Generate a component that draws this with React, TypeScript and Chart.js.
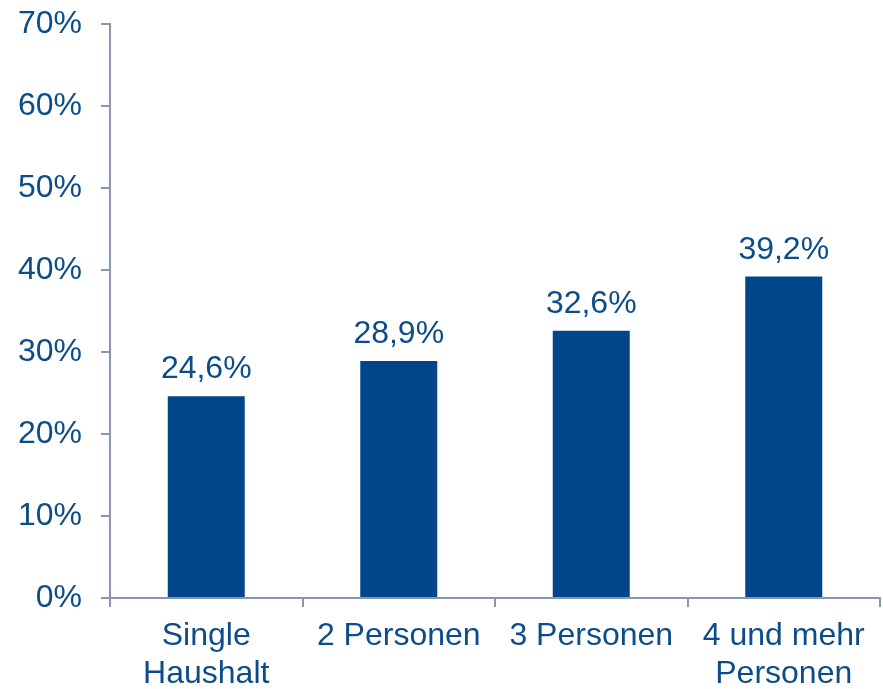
import React, { useEffect, useRef } from "react";
import { Chart, registerables } from "chart.js";

Chart.register(...registerables);

const categories: (string | string[])[] = [["Single", "Haushalt"], "2 Personen", "3 Personen", ["4 und mehr", "Personen"]];
const values: number[] = [24.6, 28.9, 32.6, 39.2];
const valueLabels: string[] = ["24,6%", "28,9%", "32,6%", "39,2%"];
const yTicks: number[] = [0, 10, 20, 30, 40, 50, 60, 70];

const TEXT = "#0C4C89";
const BAR = "#02468A";
const AXIS = "#8A96AE";
const FONT = "'Liberation Sans', Arial, sans-serif";

const labelPlugin = {
  id: "valueLabels",
  afterDatasetsDraw(chart: any) {
    const ctx = chart.ctx;
    const meta = chart.getDatasetMeta(0);
    ctx.save();
    ctx.fillStyle = TEXT;
    ctx.font = `32px ${FONT}`;
    ctx.textAlign = "center";
    ctx.textBaseline = "alphabetic";
    meta.data.forEach((bar: any, i: number) => {
      ctx.fillText(valueLabels[i], bar.x, bar.y - 18);
    });
    ctx.restore();
  },
};

export default function App() {
  const ref = useRef<HTMLCanvasElement>(null);
  useEffect(() => {
    if (!ref.current) return;
    const chart = new Chart(ref.current, {
      type: "bar",
      data: {
        labels: categories,
        datasets: [
          {
            data: values,
            backgroundColor: BAR,
            barPercentage: 0.4,
            categoryPercentage: 1,
          },
        ],
      },
      options: {
        responsive: false,
        animation: false,
        devicePixelRatio: 1,
        layout: { padding: { top: 24, right: 3, left: 0, bottom: 0 } },
        plugins: { legend: { display: false }, tooltip: { enabled: false } },
        scales: {
          x: {
            afterFit: (s: any) => {
              s.height = 91;
              s.paddingLeft = 0;
              s.paddingRight = 0;
            },
            border: { display: true, color: AXIS, width: 2 },
            grid: { display: true, drawOnChartArea: false, drawTicks: true, tickLength: 9, color: AXIS, lineWidth: 2, offset: true },
            ticks: {
              color: TEXT,
              font: { family: FONT, size: 32, lineHeight: 1.2 },
              maxRotation: 0,
              autoSkip: false,
              padding: 10,
            },
          },
          y: {
            min: 0,
            max: 70,
            afterFit: (s: any) => {
              s.width = 110;
              s.paddingTop = 0;
              s.paddingBottom = 0;
            },
            afterBuildTicks: (s: any) => {
              s.ticks = yTicks.map((v) => ({ value: v }));
            },
            border: { display: true, color: AXIS, width: 2 },
            grid: { display: true, drawOnChartArea: false, drawTicks: true, tickLength: 9, color: AXIS, lineWidth: 2 },
            ticks: {
              color: TEXT,
              font: { family: FONT, size: 32 },
              padding: 19,
              callback: (v: any) => `${v}%`,
            },
          },
        },
      },
      plugins: [labelPlugin],
    });
    return () => chart.destroy();
  }, []);
  return (
    <div style={{ position: "absolute", left: 0, top: 0, width: 883, height: 689, background: "#fff" }}>
      <canvas ref={ref} width={883} height={689} style={{ display: "block" }} />
    </div>
  );
}
